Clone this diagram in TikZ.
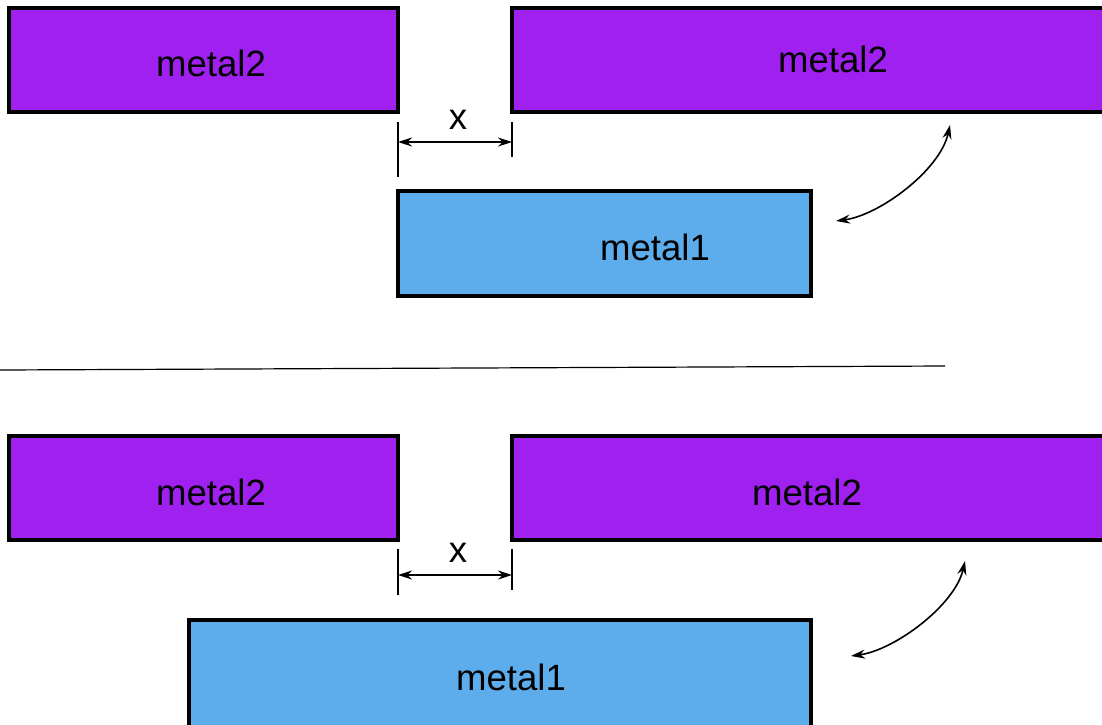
\documentclass[tikz,border=0pt]{standalone}
\usepackage{fontspec}
\setmainfont{Liberation Sans}
\usetikzlibrary{arrows.meta}
\definecolor{metalpurple}{RGB}{160,32,240}
\definecolor{metalblue}{RGB}{93,173,236}
\begin{document}
\begin{tikzpicture}[x=0.5pt,y=-0.5pt,
    metaltwo/.style={draw,line width=1.6pt,fill=metalpurple,inner sep=0pt,minimum height=52pt},
    metalone/.style={draw,line width=1.6pt,fill=metalblue,inner sep=0pt},
    metaltext/.style={inner sep=0pt,font=\fontsize{18.3}{22}\selectfont},
    dimline/.style={line width=0.6pt},
    dimarrow/.style={line width=0.6pt,{Stealth[length=7pt,width=4.5pt]}-{Stealth[length=7pt,width=4.5pt]}},
    swaparrow/.style={line width=0.8pt,{Stealth[length=7pt,width=4.5pt]}-{Stealth[length=7pt,width=4.5pt]}}]
        \useasboundingbox (0,0) rectangle (1102,724);
        \clip (0,0) rectangle (1102,724);
        % upper picture: the two metal2 plates
        \node[metaltwo,minimum width=194.5pt] (ml2a) at (203.5,60) {};
        \node[metaltwo,minimum width=314pt] (mr2a) at (826,60) {};
        \node[metaltext] (tl2a) at (211,63) {metal2};
        \node[metaltext] (tr2a) at (833,59) {metal2};
        % upper picture: metal1 under the gap
        \node[metalone,minimum width=206.5pt,minimum height=52.5pt] (m1a) at (604.5,243.5) {};
        \node[metaltext] (t1a) at (655,247) {metal1};
        % upper picture: the gap x
        \coordinate (xla) at (398,122);
        \coordinate (xlb) at (398,177);
        \coordinate (xra) at (512,122);
        \coordinate (xrb) at (512,157);
        \draw[dimline] (xla) -- (xlb);
        \draw[dimline] (xra) -- (xrb);
        \coordinate (xa1) at (398,142);
        \coordinate (xa2) at (512,142);
        \draw[dimarrow] (xa1) -- (xa2);
        \node[metaltext] (xta) at (458,120) {x};
        % upper picture: curved arrow
        \coordinate (ca1) at (836,221);
        \coordinate (ca2) at (950,125);
        \draw[swaparrow] (ca1) .. controls (880,215) and (940,170) .. (ca2);
        % separating line
        \coordinate (sep1) at (0,370);
        \coordinate (sep2) at (945,366);
        \draw[line width=0.6pt] (sep1) -- (sep2);
        % lower picture: the two metal2 plates
        \node[metaltwo,minimum width=194.5pt] (ml2b) at (203.5,488) {};
        \node[metaltwo,minimum width=314pt] (mr2b) at (826,488) {};
        \node[metaltext] (tl2b) at (211,492) {metal2};
        \node[metaltext] (tr2b) at (807,492) {metal2};
        % lower picture: wider metal1
        \node[metalone,minimum width=311pt,minimum height=70pt] (m1b) at (500,690) {};
        \node[metaltext] (t1b) at (511,677) {metal1};
        % lower picture: the gap x
        \coordinate (yla) at (398,549);
        \coordinate (ylb) at (398,595);
        \coordinate (yra) at (512,549);
        \coordinate (yrb) at (512,590);
        \draw[dimline] (yla) -- (ylb);
        \draw[dimline] (yra) -- (yrb);
        \coordinate (xb1) at (398,575);
        \coordinate (xb2) at (512,575);
        \draw[dimarrow] (xb1) -- (xb2);
        \node[metaltext] (xtb) at (458,553) {x};
        % lower picture: curved arrow
        \coordinate (cb1) at (851,656);
        \coordinate (cb2) at (965,561);
        \draw[swaparrow] (cb1) .. controls (895,650) and (955,605) .. (cb2);
\end{tikzpicture}
\end{document}
